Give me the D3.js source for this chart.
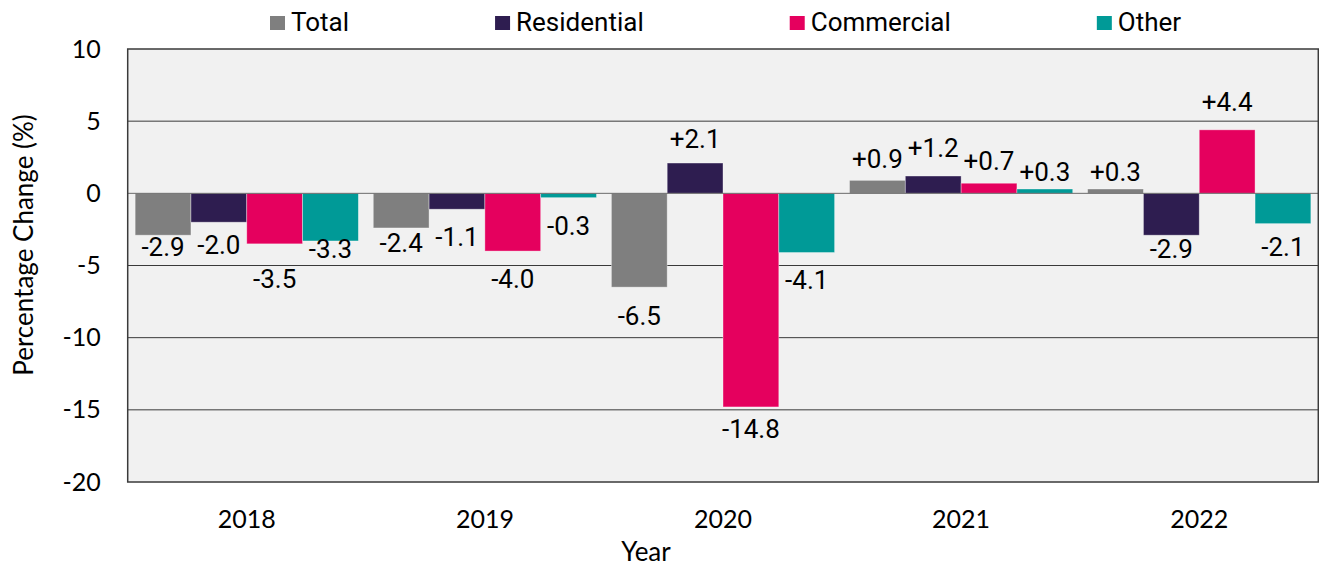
<!DOCTYPE html>
<html>
<head>
<meta charset="utf-8">
<script src="https://cdn.jsdelivr.net/npm/d3@7"></script>
<style>
  body { margin: 0; background: #fff; }
  .tick-label { font-family: Lato, "Open Sans", sans-serif; font-size: 25px; fill: #000; }
  .axis-title { font-family: Lato, "Open Sans", sans-serif; font-size: 26px; fill: #000; }
  .bar-label { font-family: Roboto, sans-serif; font-size: 26px; fill: #000; }
  .legend-label { font-family: Roboto, sans-serif; font-size: 26px; fill: #000; }
</style>
</head>
<body>
<svg width="1319" height="566"></svg>
<script>
const WIDTH = 1319;
const HEIGHT = 566;

// data
const years = ["2018", "2019", "2020", "2021", "2022"];
const series = ["Total", "Residential", "Commercial", "Other"];
const total = [-2.9, -2.4, -6.5, 0.9, 0.3];
const residential = [-2.0, -1.1, 2.1, 1.2, -2.9];
const commercial = [-3.5, -4.0, -14.8, 0.7, 4.4];
const other = [-3.3, -0.3, -4.1, 0.3, -2.1];
const yTicks = [10, 5, 0, -5, -10, -15, -20];

const colors = ["#7f7f7f", "#2e1d50", "#e5005e", "#009a97"];

// hand-placed label offsets (px from bar end), like the original
const labelDy = [
  [21, 24, 38, -12, -8],
  [32, 37, -15, -19, 23],
  [44, 37, 31, -13, -19],
  [17, 37, 36, -8, 32]
];

const values = [total, residential, commercial, other];
const rows = [];
series.forEach((s, si) => {
  years.forEach((yr, yi) => {
    rows.push({ series: s, si: si, year: yr, yi: yi, value: values[si][yi] });
  });
});

const plot = { left: 127.7, top: 49, right: 1318.3, bottom: 482 };

let svg = d3.select("svg");

let x0 = d3.scaleBand()
           .domain(years)
           .range([plot.left, plot.right])
           .paddingInner(0.0625)
           .paddingOuter(0.03125);

let x1 = d3.scaleBand()
           .domain(series)
           .range([0, x0.bandwidth()]);

let y = d3.scaleLinear()
          .domain([-20, 10])
          .range([plot.bottom, plot.top]);

// plot background
svg.append("rect")
   .attr("x", plot.left)
   .attr("y", plot.top)
   .attr("width", plot.right - plot.left)
   .attr("height", plot.bottom - plot.top)
   .attr("fill", "#f1f1f1");

// gridlines
svg.append("g")
   .selectAll("line")
   .data(yTicks.filter(t => t !== 10 && t !== -20 && t !== 0))
   .enter().append("line")
   .attr("x1", plot.left)
   .attr("x2", plot.right)
   .attr("y1", d => y(d))
   .attr("y2", d => y(d))
   .attr("stroke", "#3a3a3a")
   .attr("stroke-width", 1);

// bars
svg.append("g")
   .selectAll("rect")
   .data(rows)
   .enter().append("rect")
   .attr("x", d => x0(d.year) + x1(d.series))
   .attr("width", x1.bandwidth())
   .attr("y", d => Math.min(y(d.value), y(0)))
   .attr("height", d => Math.abs(y(d.value) - y(0)))
   .attr("fill", d => colors[d.si])
   .attr("stroke", "rgba(255,255,255,0.45)")
   .attr("stroke-width", 0.8);

// zero line
svg.append("line")
   .attr("x1", plot.left)
   .attr("x2", plot.right)
   .attr("y1", y(0))
   .attr("y2", y(0))
   .attr("stroke", "#6a6a6a")
   .attr("stroke-width", 1);

// frame
svg.append("rect")
   .attr("x", plot.left)
   .attr("y", plot.top)
   .attr("width", plot.right - plot.left)
   .attr("height", plot.bottom - plot.top)
   .attr("fill", "none")
   .attr("stroke", "#3a3a3a")
   .attr("stroke-width", 1.5);

// bar labels
svg.append("g")
   .selectAll("text")
   .data(rows)
   .enter().append("text")
   .attr("class", "bar-label")
   .attr("text-anchor", "middle")
   .attr("x", d => x0(d.year) + x1(d.series) + x1.bandwidth() / 2)
   .attr("y", d => y(d.value) + labelDy[d.si][d.yi])
   .text(d => (d.value > 0 ? "+" : "") + d.value.toFixed(1));

// y axis (plain hyphen minus, like the original)
let yAxis = d3.axisLeft(y)
              .tickValues(yTicks)
              .tickFormat(d => String(d))
              .tickSize(0)
              .tickPadding(27);
let yg = svg.append("g")
            .attr("transform", "translate(" + plot.left + ",0)")
            .call(yAxis);
yg.select(".domain").remove();
yg.selectAll("text").attr("class", "tick-label").attr("font-size", null).attr("font-family", null);

// x axis
let xAxis = d3.axisBottom(x0).tickSize(0).tickPadding(0);
let xg = svg.append("g")
            .attr("transform", "translate(0," + plot.bottom + ")")
            .call(xAxis);
xg.select(".domain").remove();
xg.selectAll("text")
  .attr("class", "tick-label")
  .attr("font-size", null)
  .attr("font-family", null)
  .attr("dy", null)
  .attr("y", 46);

// axis titles
svg.append("text")
   .attr("class", "axis-title")
   .attr("text-anchor", "middle")
   .attr("x", 646)
   .attr("y", 561)
   .text("Year");

svg.append("text")
   .attr("class", "axis-title")
   .attr("text-anchor", "middle")
   .attr("transform", "translate(33,245) rotate(-90)")
   .text("Percentage Change (%)");

// legend
let legend = svg.append("g");
let items = legend.selectAll("g")
                  .data(series)
                  .enter().append("g");
items.append("rect")
     .attr("width", 15)
     .attr("height", 14)
     .attr("y", 16)
     .attr("fill", (d, i) => colors[i]);
items.append("text")
     .attr("class", "legend-label")
     .attr("x", 21)
     .attr("y", 30.5)
     .text(d => d);

let xPos = 0;
let offsets = [];
items.each(function() {
  offsets.push(xPos);
  let w = d3.select(this).select("text").node().getComputedTextLength();
  xPos += 21 + w + 146;
});
let legendStart = 270;
items.attr("transform", (d, i) => "translate(" + (legendStart + offsets[i]) + ",0)");
</script>
</body>
</html>
